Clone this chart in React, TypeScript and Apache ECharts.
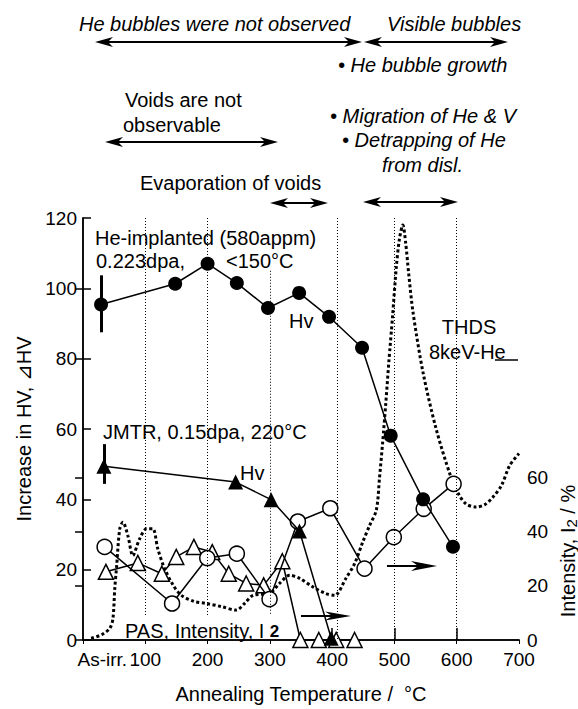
import React, { useEffect, useRef } from 'react';
import * as echarts from 'echarts';

// ---------- data ----------
const xLabelValues = [31, 100, 200, 300, 400, 500, 600, 700];
const xBottomTicks = [400, 500, 600];
const yRightLabelValues = [0, 20, 40, 60];
const yRightTickValues = [0, 20, 40, 60, 104, 130];

// He-implanted, Hv (filled circles, left axis)
const heHvTemp = [29, 148, 200, 247, 297, 347, 395, 448, 494, 546, 594];
const heHvValue = [95.4, 101.3, 107, 101.5, 94.4, 98.7, 91.9, 83.1, 58.1, 40, 26.5];
const heHvError = [87.5, 103.7];

// JMTR, Hv (filled triangles, left axis)
const jmtrHvTemp = [33.5, 245, 302, 347.5, 398.5];
const jmtrHvValue = [49.4, 44.9, 39.9, 31, 0.5];
const jmtrHvError = [44.4, 55.7];

// JMTR, PAS intensity I2 (open triangles, right axis)
const jmtrPasTemp = [36.8, 88, 126.6, 149.7, 178, 207.5, 234, 262, 290, 320, 349, 378.6, 406.5, 436];
const jmtrPasValue = [25.2, 28.5, 24.5, 30.7, 34.4, 32.5, 24.5, 20.9, 20.2, 29.1, 0, 0, 0, 0];

// He-implanted, PAS intensity I2 (open circles, right axis)
const hePasTemp = [34.7, 143, 199.5, 247, 299.5, 345, 397, 452, 499, 547, 595];
const hePasValue = [34.4, 13.5, 30.3, 31.9, 15.1, 43.8, 48.7, 26.4, 38.0, 48.5, 57.7];

// THDS 8keV-He (dotted curve, arbitrary units on the left scale)
const thdsTemp = [13, 30, 43, 48, 51, 54, 59, 64, 72, 80, 91, 102, 112, 120, 131, 145, 158, 178, 198, 222, 246, 260, 273, 300, 315, 332, 348, 369, 390, 404, 422, 436, 449, 460, 471, 476, 481, 486, 491, 497, 503, 508, 513.5, 518, 523, 530, 546, 567, 590, 603, 615, 631, 645, 658, 672, 685, 700];
const thdsValue = [0.5, 1.5, 3.3, 6, 14.6, 21, 31.6, 33.5, 29.7, 24, 28.8, 31.6, 31.6, 26, 20.3, 15.5, 12.7, 11, 10.4, 9.5, 8.5, 10.5, 12.7, 13.3, 16, 18.4, 17.5, 15.1, 13.2, 12.7, 17.5, 21.7, 27.8, 32.5, 37, 46, 56, 67, 79, 92, 106, 114, 118, 113, 104, 93, 76, 60, 46.7, 41.5, 38.7, 37.8, 38.5, 40.6, 44, 49.6, 53];

// dotted vertical guide lines: [temperature, top, bottom] (left scale)
const guideTemps = [100, 200, 300, 408, 500, 600];
const guideTops = [120, 120, 105, 120, 120, 120];
const guideBottoms = [7, 7, 7, 0, 0, 0];

const FONT = '"Liberation Sans", Arial, Helvetica, "DejaVu Sans", sans-serif';

const zip = (a: number[], b: number[]) => a.map((v, i) => [v, b[i]]);

const head = (tipX: number, y: number, dir: number, len: number, hw: number) => ({
  type: 'polygon',
  z: 100,
  shape: {
    points: [
      [tipX, y],
      [tipX - dir * len, y - hw],
      [tipX - dir * len * 0.72, y],
      [tipX - dir * len, y + hw],
    ],
  },
  style: { fill: '#000' },
});

const arrow = (x1: number, x2: number, y: number, both: boolean, len = 18, hw = 5) => {
  const els: any[] = [
    {
      type: 'line',
      z: 100,
      shape: { x1: both ? x1 + len * 0.6 : x1, y1: y, x2: x2 - len * 0.6, y2: y },
      style: { stroke: '#000', lineWidth: 2 },
    },
    head(x2, y, 1, len, hw),
  ];
  if (both) els.push(head(x1, y, -1, len, hw));
  return els;
};

const txt = (text: string, x: number, y: number, opts: any = {}) => ({
  type: 'text',
  z: 100,
  x,
  y,
  style: {
    text,
    fill: '#000',
    font: `${opts.italic ? 'italic ' : ''}${opts.size || 20}px ${FONT}`,
    textAlign: opts.align || 'left',
    textVerticalAlign: 'middle',
    ...(opts.rich ? { rich: opts.rich } : {}),
  },
  ...(opts.rotation ? { rotation: opts.rotation } : {}),
});

export default function App() {
  const ref = useRef<HTMLDivElement>(null);

  useEffect(() => {
    if (!ref.current) return;
    const chart = echarts.init(ref.current, undefined, { renderer: 'svg' });

    const guideLines = guideTemps.map((t, i) => [
      { coord: [t, guideTops[i]] },
      { coord: [t, guideBottoms[i]] },
    ]);

    const graphic: any[] = [
      // top annotations
      txt('He bubbles were not observed', 79, 24, { italic: true }),
      txt('Visible bubbles', 387, 24, { italic: true }),
      ...arrow(95, 362, 42, true),
      ...arrow(364, 508, 42, true),
      txt('• He bubble growth', 338, 65, { italic: true }),
      txt('Voids are not', 125, 100),
      txt('observable', 123, 125),
      ...arrow(105, 278, 142, true),
      txt('• Migration of He & V', 330, 116, { italic: true }),
      txt('• Detrapping of He', 342, 140, { italic: true }),
      txt('from disl.', 382, 165, { italic: true }),
      txt('Evaporation of voids', 140, 183),
      ...arrow(270, 328, 203, true),
      ...arrow(363, 458, 202, true),
      // in-plot labels
      txt('He-implanted (580appm)', 95, 238),
      txt('0.223dpa,', 96, 261),
      txt('<150°C', 226, 261),
      txt('Hv', 289, 321),
      txt('THDS', 469, 327, { align: 'center' }),
      txt('8keV-He', 429, 352),
      { type: 'line', z: 100, shape: { x1: 495, y1: 360, x2: 518, y2: 360 }, style: { stroke: '#000', lineWidth: 1.5 } },
      txt('JMTR, 0.15dpa, 220°C', 103, 432),
      txt('Hv', 240, 473),
      txt('{a|PAS, Intensity, I }{b|2}', 125, 631, {
        rich: {
          a: { fontSize: 20, fontFamily: FONT, fill: '#000' },
          b: { fontSize: 17, fontWeight: 'bold', fontFamily: FONT, fill: '#000' },
        },
      }),
      ...arrow(301, 351, 616, false, 26, 4.5),
      ...arrow(387, 437, 566, false, 26, 5),
      // right axis title
      txt('{a|Intensity, I}{b|2}{a| / %}', 568, 551, {
        align: 'center',
        rotation: Math.PI / 2,
        rich: {
          a: { fontSize: 20, fontFamily: FONT, fill: '#000' },
          b: { fontSize: 15, fontFamily: FONT, fill: '#000', padding: [6, 0, 0, 0] },
        },
      }),
    ];

    const option: any = {
      animation: false,
      backgroundColor: '#fff',
      grid: { left: 83, top: 218, width: 436, height: 424, containLabel: false },
      xAxis: [
        {
          type: 'value',
          position: 'bottom',
          min: 0,
          max: 700,
          interval: 100,
          axisLine: { show: true, lineStyle: { color: '#000', width: 1.5 } },
          axisTick: { show: true, inside: true, length: 12, customValues: xBottomTicks, lineStyle: { color: '#000', width: 1.5 } },
          axisLabel: {
            customValues: xLabelValues,
            formatter: (v: number) => (v < 50 ? 'As-irr.' : String(v)),
            fontSize: 19,
            fontFamily: FONT,
            color: '#000',
            margin: 10,
          },
          splitLine: { show: false },
          name: 'Annealing Temperature /  °C',
          nameLocation: 'middle',
          nameGap: 44,
          nameTextStyle: { fontSize: 20, fontFamily: FONT, color: '#000' },
        },
        {
          type: 'value',
          position: 'top',
          min: 0,
          max: 700,
          interval: 100,
          axisLine: { show: true, lineStyle: { color: '#000', width: 1.5 } },
          axisTick: { show: true, inside: true, length: 4, lineStyle: { color: '#000', width: 1 } },
          axisLabel: { show: false },
          splitLine: { show: false },
        },
      ],
      yAxis: [
        {
          type: 'value',
          position: 'left',
          min: 0,
          max: 120,
          interval: 20,
          axisLine: { show: true, lineStyle: { color: '#000', width: 1.5 } },
          axisTick: { show: true, inside: true, length: 8, lineStyle: { color: '#000', width: 1.5 } },
          axisLabel: { fontSize: 19, fontFamily: FONT, color: '#000', margin: 6 },
          splitLine: { show: false },
          name: 'Increase in HV, ⊿HV',
          nameLocation: 'middle',
          nameGap: 46,
          nameTextStyle: { fontSize: 20, fontFamily: FONT, color: '#000' },
        },
        {
          type: 'value',
          position: 'right',
          min: 0,
          max: 156,
          axisLine: { show: true, lineStyle: { color: '#000', width: 1.5 } },
          axisTick: { show: true, inside: true, length: 8, customValues: yRightTickValues, lineStyle: { color: '#000', width: 1.5 } },
          axisLabel: { customValues: yRightLabelValues, fontSize: 19, fontFamily: FONT, color: '#000', margin: 8 },
          splitLine: { show: false },
        },
      ],
      series: [
        {
          name: 'THDS',
          type: 'line',
          xAxisIndex: 0,
          yAxisIndex: 0,
          data: zip(thdsTemp, thdsValue),
          smooth: 0.3,
          showSymbol: false,
          symbol: 'none',
          z: 1,
          lineStyle: { color: '#000', width: 3, type: [3, 2.5] },
          markLine: {
            silent: true,
            symbol: ['none', 'none'],
            label: { show: false },
            lineStyle: { color: '#000', width: 1, type: [1, 2] },
            data: guideLines,
          },
        },
        {
          name: 'JMTR PAS',
          type: 'line',
          xAxisIndex: 0,
          yAxisIndex: 1,
          data: zip(jmtrPasTemp, jmtrPasValue),
          symbol: 'triangle',
          symbolSize: 15,
          z: 3,
          lineStyle: { color: '#000', width: 1.5 },
          itemStyle: { color: '#fff', borderColor: '#000', borderWidth: 1.5 },
        },
        {
          name: 'He PAS',
          type: 'line',
          xAxisIndex: 0,
          yAxisIndex: 1,
          data: zip(hePasTemp, hePasValue),
          symbol: 'circle',
          symbolSize: 15,
          z: 4,
          lineStyle: { color: '#000', width: 1.5 },
          itemStyle: { color: '#fff', borderColor: '#000', borderWidth: 1.5 },
        },
        {
          name: 'JMTR Hv',
          type: 'line',
          xAxisIndex: 0,
          yAxisIndex: 0,
          data: zip(jmtrHvTemp, jmtrHvValue),
          symbol: 'triangle',
          symbolSize: 15,
          z: 5,
          lineStyle: { color: '#000', width: 1.5 },
          itemStyle: { color: '#000' },
          markLine: {
            silent: true,
            symbol: ['none', 'none'],
            label: { show: false },
            lineStyle: { color: '#000', width: 3, type: 'solid' },
            data: [[{ coord: [jmtrHvTemp[0], jmtrHvError[0]] }, { coord: [jmtrHvTemp[0], jmtrHvError[1]] }]],
          },
        },
        {
          name: 'He Hv',
          type: 'line',
          xAxisIndex: 0,
          yAxisIndex: 0,
          data: zip(heHvTemp, heHvValue),
          symbol: 'circle',
          symbolSize: 14,
          z: 6,
          lineStyle: { color: '#000', width: 1.5 },
          itemStyle: { color: '#000' },
          markLine: {
            silent: true,
            symbol: ['none', 'none'],
            label: { show: false },
            lineStyle: { color: '#000', width: 3, type: 'solid' },
            data: [[{ coord: [heHvTemp[0], heHvError[0]] }, { coord: [heHvTemp[0], heHvError[1]] }]],
          },
        },
      ],
      graphic,
    };

    chart.setOption(option);
    return () => chart.dispose();
  }, []);

  return (
    <div
      ref={ref}
      style={{ position: 'fixed', left: 0, top: 0, width: 578, height: 709, background: '#fff' }}
    />
  );
}
